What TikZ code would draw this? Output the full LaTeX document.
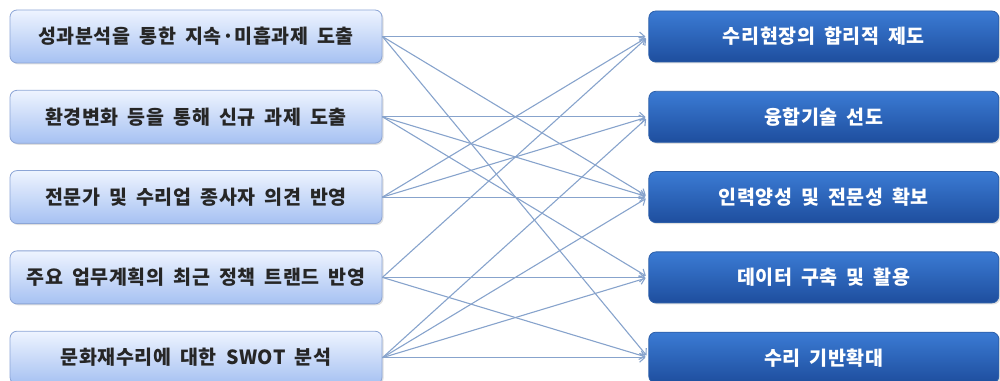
\documentclass[tikz,border=0pt]{standalone}
\usepackage{fontspec}
\setmainfont{Noto Sans CJK KR}[LetterSpace=3, WordSpace=1.8]
\usetikzlibrary{arrows.meta, positioning, shadows}

\definecolor{srctop}{HTML}{EEF4FF}
\definecolor{srcbot}{HTML}{A6C1F2}
\definecolor{srcline}{HTML}{8CA5D6}
\definecolor{goaltop}{HTML}{3B7BD4}
\definecolor{goalbot}{HTML}{1E4E9E}
\definecolor{goalline}{HTML}{2D5FA8}
\definecolor{linkblue}{HTML}{87A3CC}

\tikzset{
	src/.style={draw=srcline, line width=0.8pt, rounded corners=7pt,
		top color=srctop, bottom color=srcbot, text=black!85,
		minimum width=372pt, minimum height=53pt, inner sep=0pt,
		font=\bfseries\fontsize{19.5}{23}\selectfont,
		drop shadow={opacity=0.25, shadow xshift=1.5pt, shadow yshift=-1.5pt}},
	goal/.style={draw=goalline, line width=0.8pt, rounded corners=7pt,
		top color=goaltop, bottom color=goalbot, text=white,
		minimum width=350pt, minimum height=51pt, inner sep=0pt,
		font=\bfseries\fontsize{19.5}{23}\selectfont,
		drop shadow={opacity=0.25, shadow xshift=1.5pt, shadow yshift=-1.5pt}},
	link/.style={->, draw=linkblue, line width=1.1pt, shorten >=3pt}
}

\begin{document}
\begin{tikzpicture}[node distance=26.5pt, >={Straight Barb[length=5pt, width=9pt]}]
	\useasboundingbox (0,0) rectangle (1000pt,380pt);
	% left column
	\node [src] (perf) at (196pt,343.5pt) {성과분석을 통한 지속·미흡과제 도출};
	\node [src, below=of perf] (env) {환경변화 등을 통해 신규 과제 도출};
	\node [src, below=of env] (expert) {전문가 및 수리업 종사자 의견 반영};
	\node [src, below=of expert] (trend) {주요 업무계획의 최근 정책 트랜드 반영};
	\node [src, below=of trend] (swot) {문화재수리에 대한 SWOT 분석};
	% right column
	\node [goal, right=266pt of perf] (system) {수리현장의 합리적 제도};
	\node [goal, right=266pt of env] (fusion) {융합기술 선도};
	\node [goal, right=266pt of expert] (talent) {인력양성 및 전문성 확보};
	\node [goal, right=266pt of trend] (data) {데이터 구축 및 활용};
	\node [goal, right=266pt of swot] (base) {수리 기반확대};
	
	\draw [link] (perf.east) -- (system.west);
	\draw [link] (perf.east) -- (talent.west);
	\draw [link] (perf.east) -- (base.west);
	\draw [link] (env.east) -- (fusion.west);
	\draw [link] (env.east) -- (talent.west);
	\draw [link] (env.east) -- (data.west);
	\draw [link] (expert.east) -- (system.west);
	\draw [link] (expert.east) -- (fusion.west);
	\draw [link] (expert.east) -- (talent.west);
	\draw [link] (trend.east) -- (system.west);
	\draw [link] (trend.east) -- (data.west);
	\draw [link] (trend.east) -- (base.west);
	\draw [link] (swot.east) -- (fusion.west);
	\draw [link] (swot.east) -- (talent.west);
	\draw [link] (swot.east) -- (data.west);
	\draw [link] (swot.east) -- (base.west);
\end{tikzpicture}
\end{document}
